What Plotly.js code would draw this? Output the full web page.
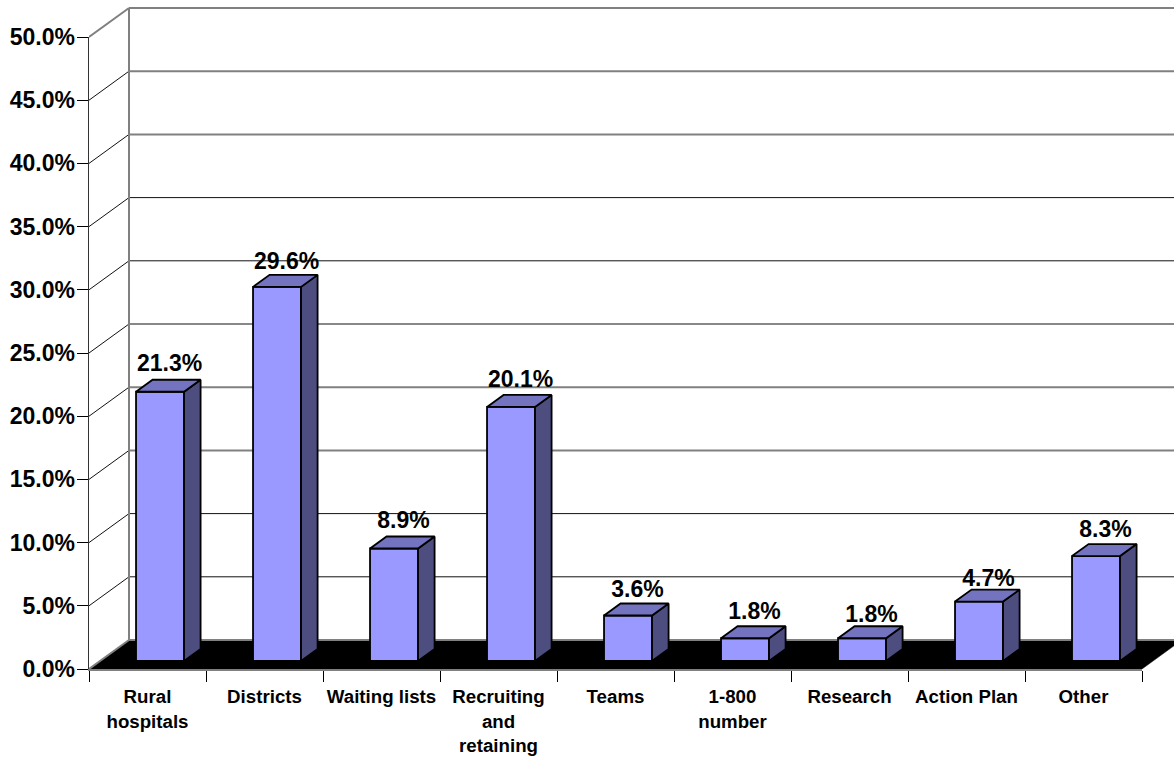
<!DOCTYPE html>
<html>
<head>
<meta charset="utf-8">
<script src="https://cdn.plot.ly/plotly-3.0.1.min.js"></script>
<style>html,body{margin:0;padding:0;background:#fff;overflow:hidden}#chart{width:1174px;height:757px}</style>
</head>
<body>
<div id="chart"></div>
<script>
// Data
const categories = ["Rural<br>hospitals","Districts","Waiting lists","Recruiting<br>and<br>retaining","Teams","1-800<br>number","Research","Action Plan","Other"];
const values = [21.3,29.6,8.9,20.1,3.6,1.8,1.8,4.7,8.3];
const yTicks = [0,5,10,15,20,25,30,35,40,45,50];
const yTickLabels = ["0.0%","5.0%","10.0%","15.0%","20.0%","25.0%","30.0%","35.0%","40.0%","45.0%","50.0%"];
const labelNudge = [0,3,1,1,3,2,5,6,2];
const greyGrid = [15,20,40,45];
const blackGrid = [5,10,25,30,35];

// Chart geometry of the 3-D projection
const W = 1174, H = 757;
const mL = 89, mR = 0, mT = 7, mB = 88;
const frontW = 1053, frontH = 632;
const catCount = categories.length, maxV = 50;
const pxX = frontW / catCount;
const pxY = frontH / maxV;
const fullW = W - mL - mR, fullH = H - mT - mB;
const wallDepth = 29, depthSlope = 40 / 29;
const barFront = 8, barBack = 20, barHalf = 24 / pxX, barNudge = 1.5 / pxX;
const labelLift = 27, labelShift = 11;

// map (category position, value, depth in px) onto axis values
const px = (x, d) => x + d * depthSlope / pxX;
const py = (v, d) => v + d / pxY;

function segs(list) {
  const xs = [], ys = [];
  list.forEach(s => { s.forEach(p => { xs.push(px(p[0], p[2])); ys.push(py(p[1], p[2])); }); xs.push(null); ys.push(null); });
  return {x: xs, y: ys};
}

const GREY = "#808080";
const traces = [];
const frontAxes = {xaxis: "x2", yaxis: "y2"};
const addLine = (list, color, width) => traces.push(Object.assign({
  type: "scatter", mode: "lines", hoverinfo: "skip", showlegend: false,
  line: {color: color, width: width}
}, segs(list)));
const addPoly = (list, fill, lineColor, lineWidth, axes) => traces.push(Object.assign({
  type: "scatter", mode: "lines", fill: "toself", fillcolor: fill, hoverinfo: "skip", showlegend: false,
  line: {color: lineColor, width: lineWidth}
}, segs(list), axes || {}));

// first subplot: floor and walls, reaching past the front axes
const inner = yTicks.filter(t => t > 0 && t < maxV);
addPoly([[[0,0,0],[0,0,wallDepth],[catCount,0,wallDepth],[catCount,0,0],[0,0,0]]], "#000000", "#000000", 0.5);
addLine(greyGrid.map(t => [[0,t,wallDepth],[catCount,t,wallDepth]]), GREY, 2);
addLine(blackGrid.map(t => [[0,t,wallDepth],[catCount,t,wallDepth]]), "#111111", 1);
addLine(inner.map(t => [[0,t,0],[0,t,wallDepth]]), "#111111", 1);
addLine([
  [[0,maxV,wallDepth],[catCount,maxV,wallDepth]],
  [[0,maxV,0],[0,maxV,wallDepth]],
  [[0,0,wallDepth],[0,maxV,wallDepth]],
  [[0,0,wallDepth],[catCount,0,wallDepth]],
  [[0,0,0],[0,0,wallDepth]]
], GREY, 2);

// second subplot: the labelled axes, the bars and their faces
const bx = i => i + 0.5 + barNudge;
traces.push({
  type: "bar", xaxis: "x2", yaxis: "y2", x: values.map((v, i) => px(bx(i), barFront)), y: values,
  base: values.map(() => barFront / pxY), width: 2 * barHalf,
  marker: {color: "#9999FF", line: {color: "#000000", width: 1.8}}, hoverinfo: "skip", showlegend: false
});
addPoly(values.map((v, i) => { const r = bx(i) + barHalf; return [[r,0,barFront],[r,v,barFront],[r,v,barBack],[r,0,barBack],[r,0,barFront]]; }), "#4D4D80", "#000000", 1.8, frontAxes);
addPoly(values.map((v, i) => { const a = bx(i) - barHalf, b = bx(i) + barHalf; return [[a,v,barFront],[b,v,barFront],[b,v,barBack],[a,v,barBack],[a,v,barFront]]; }), "#7373BF", "#000000", 1.8, frontAxes);
traces.push({
  type: "scatter", mode: "text", xaxis: "x2", yaxis: "y2", cliponaxis: false, hoverinfo: "skip", showlegend: false,
  x: values.map((v, i) => px(i + 0.5, barFront) + labelShift / pxX),
  y: values.map((v, i) => py(v, barFront) + (labelLift - labelNudge[i]) / pxY),
  text: values.map(v => v.toFixed(1) + "%"), textposition: "middle center",
  textfont: {family: "Liberation Sans, Arial, sans-serif", size: 23, weight: 700, color: "#000"}
});

const fontTick = {family: "Liberation Sans, Arial, sans-serif", size: 23, weight: 700, color: "#000"};
const layout = {
  width: W, height: H, paper_bgcolor: "#fff", plot_bgcolor: "rgba(0,0,0,0)", showlegend: false,
  margin: {l: mL, r: mR, t: mT, b: mB, pad: 0},
  xaxis: {domain: [0, 1], range: [0, fullW / pxX], visible: false, fixedrange: true},
  yaxis: {domain: [0, 1], range: [0, fullH / pxY], visible: false, fixedrange: true},
  xaxis2: {
    anchor: "y2", domain: [0, frontW / fullW], range: [0, catCount],
    tickmode: "array", tickvals: categories.map((c, i) => i + 0.5), ticktext: categories,
    ticks: "", tickangle: 0, showgrid: false, zeroline: false, showline: true, linecolor: GREY, linewidth: 2,
    tickfont: {family: "Liberation Sans, Arial, sans-serif", size: 18.7, weight: 700, color: "#000"},
    ticklabelstandoff: 10, fixedrange: true,
    minor: {tickmode: "array", tickvals: categories.concat([""]).map((c, i) => i), ticks: "outside", ticklen: 11, tickwidth: 1, tickcolor: "#000", showgrid: false}
  },
  yaxis2: {
    anchor: "x2", domain: [0, frontH / fullH], range: [0, maxV],
    tickmode: "array", tickvals: yTicks, ticktext: yTickLabels, ticks: "outside", ticklen: 11, tickwidth: 1, tickcolor: "#000",
    showgrid: false, zeroline: false, showline: true, linecolor: "#333", linewidth: 1.5, tickfont: fontTick, ticklabelstandoff: -3, fixedrange: true
  }
};
Plotly.newPlot("chart", traces, layout, {displayModeBar: false, responsive: false, staticPlot: true});
</script>
</body>
</html>
